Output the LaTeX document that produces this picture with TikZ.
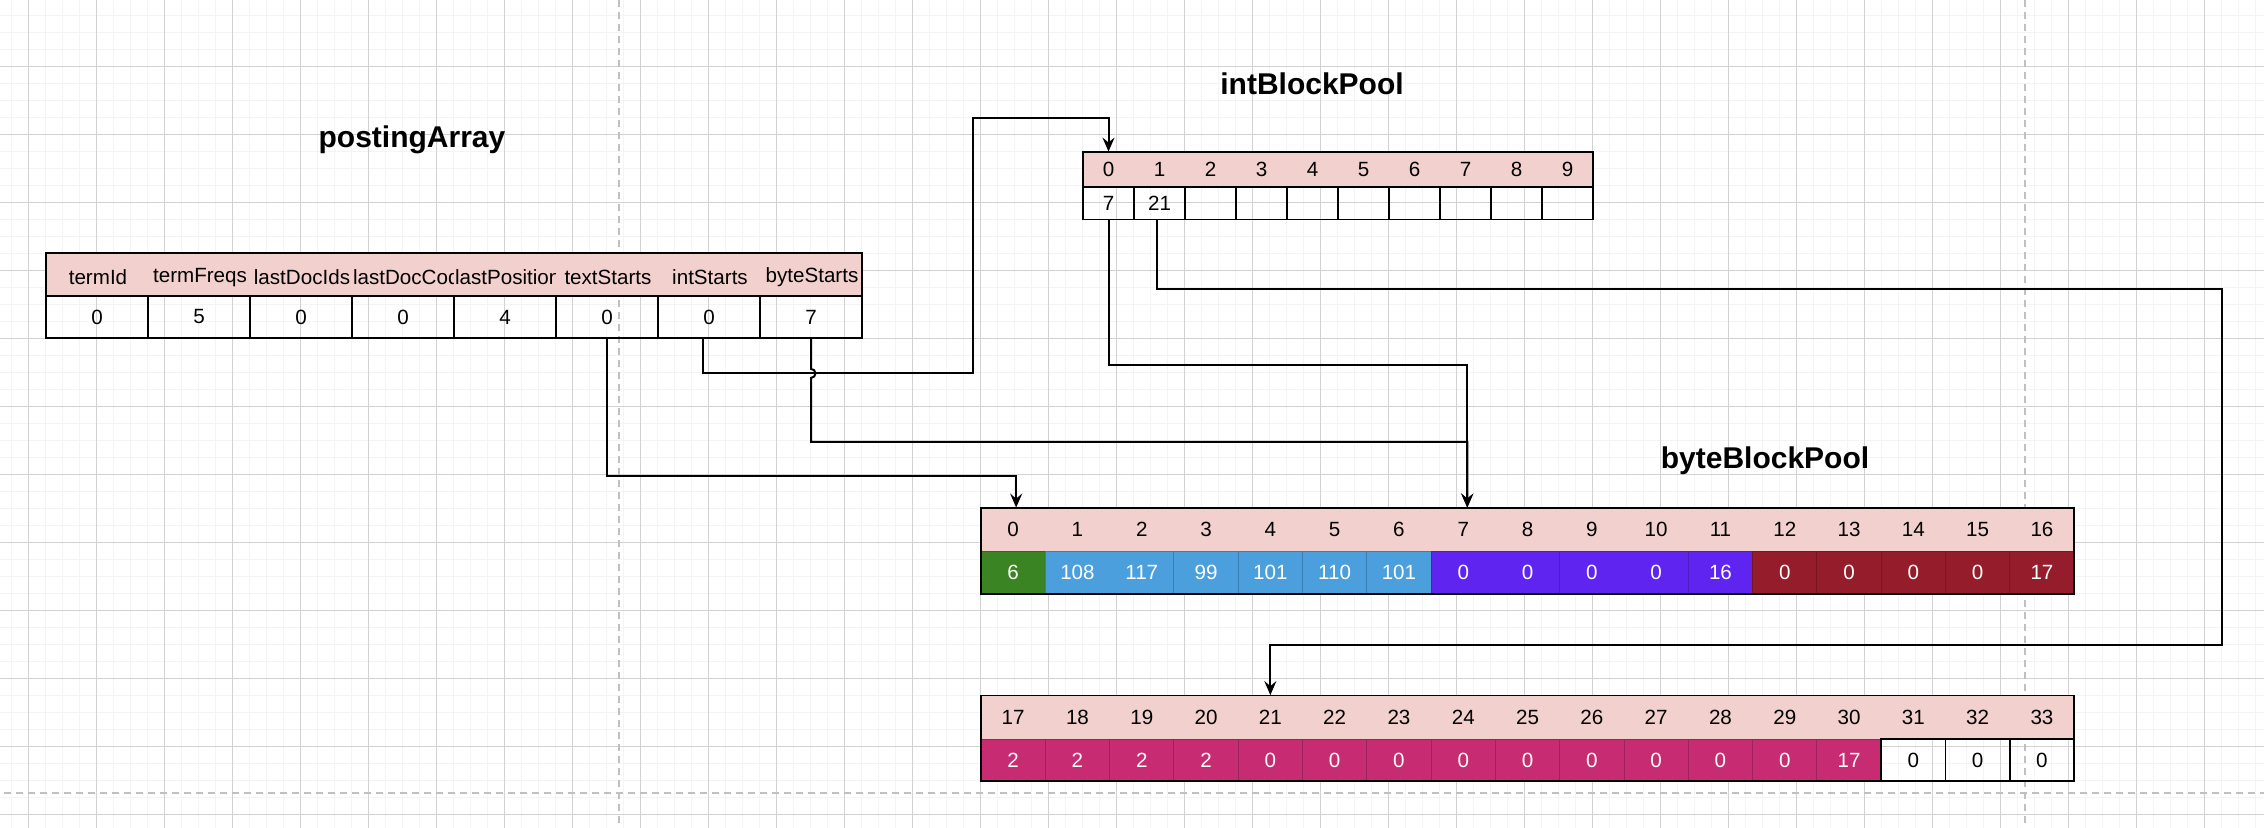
\documentclass[tikz,border=0pt]{standalone}
\usepackage{fontspec}
\setmainfont{Liberation Sans}
\usetikzlibrary{arrows.meta,calc}
\definecolor{hdrpink}{RGB}{242,208,205}
\definecolor{gridmajor}{RGB}{210,210,210}
\definecolor{gridminor}{RGB}{244,244,244}
\definecolor{pagebreak}{RGB}{192,192,192}
\definecolor{cgreen}{RGB}{58,132,36}
\definecolor{cblue}{RGB}{74,159,220}
\definecolor{cpurple}{RGB}{96,36,240}
\definecolor{cred}{RGB}{149,29,43}
\definecolor{cmagenta}{RGB}{199,43,113}
\begin{document}
\begin{tikzpicture}[x=0.5pt,y=-0.5pt,
  title/.style={font=\fontsize{15}{18}\selectfont\bfseries},
  lbl/.style={inner sep=0pt,font=\fontsize{10.3}{12}\selectfont},
  frame/.style={draw=black,line width=0.9pt},
  wire/.style={line width=1pt},
  conn/.style={line width=1pt,-{Stealth[length=7pt,width=6pt,inset=2.5pt]}},
]
\useasboundingbox (0,0) rectangle (2264,828);
\fill[white] (0,0) rectangle (2264,828);
\foreach \k in {0,...,132}
  \draw[gridminor,line width=0.6pt] ({11.3+17*\k},0) -- ({11.3+17*\k},828);
\foreach \k in {0,...,49}
  \draw[gridminor,line width=0.6pt] (0,{-1.7+17*\k}) -- (2264,{-1.7+17*\k});
\foreach \k in {0,...,32}
  \draw[gridmajor,line width=0.5pt] ({28.3+68*\k},0) -- ({28.3+68*\k},828);
\foreach \k in {0,...,12}
  \draw[gridmajor,line width=0.5pt] (0,{-1.7+68*\k}) -- (2264,{-1.7+68*\k});
\draw[pagebreak,line width=1pt,dash pattern=on 3.5pt off 2.5pt] (619,0) -- (619,828);
\draw[pagebreak,line width=1pt,dash pattern=on 3.5pt off 2.5pt] (2025,0) -- (2025,828);
\draw[pagebreak,line width=1pt,dash pattern=on 3.5pt off 2.5pt] (4,792.7) -- (2264,792.7);

\node[title] (postingtitle) at (412,140) {postingArray};
\node[title] (inttitle) at (1312,84) {intBlockPool};
\node[title] (bytetitle) at (1765,461) {byteBlockPool};

\fill[hdrpink] (46,253) rectangle (862,296);
\foreach \name [count=\i from 0] in {termId,termFreqs,lastDocIds,lastDocCodes,lastPositions,textStarts,intStarts,byteStarts} {
  \begin{scope}
    \clip ({46+102*\i},253) rectangle ++(101,43);
    \node[lbl,text width=51pt,align=center,minimum height=21.5pt] (ph\i) at ({98+102*\i},277.5) {\mbox{\name}};
  \end{scope}
}
\foreach \v [count=\i from 0] in {0,5,0,0,4,0,0,7}
  \node[lbl,frame,minimum width=51pt,minimum height=21pt] (pv\i) at ({97+102*\i},317) {\raisebox{-1pt}{\v}};
\draw[frame] (46,253) rectangle (862,338);

\fill[hdrpink] (1083,152) rectangle (1593,187);
\foreach \i in {0,...,9}
  \node[lbl,minimum width=25.5pt,minimum height=17.5pt] (ih\i) at ({1108.5+51*\i},169.5) {\i};
\foreach \v [count=\i from 0] in {7,21,{},{},{},{},{},{},{},{}}
  \node[lbl,frame,minimum width=25.5pt,minimum height=16.25pt] (iv\i) at ({1108.5+51*\i},203.25) {\v};
\draw[frame] (1083,152) rectangle (1593,219.5);

\fill[hdrpink] (981,508) rectangle (2074,551.5);
\foreach \i in {0,...,16}
  \node[lbl,minimum width=32.15pt,minimum height=21.75pt] (bh\i) at ({1013.15+64.3*\i},529.75) {\i};
\foreach \a/\b/\c in {0/1/cgreen,1/3/cblue,3/4/cblue,4/5/cblue,5/6/cblue,6/7/cblue,7/9/cpurple,9/11/cpurple,11/12/cpurple,12/13/cred,13/14/cred,14/15/cred,15/16/cred,16/17/cred}
  \draw[draw=\c!80!black,fill=\c,line width=0.5pt] ({981+64.3*\a},551.5) rectangle ({981+64.3*\b},594);
\foreach \v [count=\i from 0] in {6,108,117,99,101,110,101,0,0,0,0,16,0,0,0,0,17}
  \node[lbl,text=white,minimum width=32.15pt,minimum height=21.25pt] (bv\i) at ({1013.15+64.3*\i},572.75) {\v};
\draw[frame] (981,508) rectangle (2074,594);

\fill[hdrpink] (981,695.5) rectangle (2074,739);
\foreach \i in {0,...,16} {
  \pgfmathtruncatemacro\idx{\i+17}
  \node[lbl,minimum width=32.15pt,minimum height=21.75pt] (ch\i) at ({1013.15+64.3*\i},717.25) {\idx};
}
\foreach \a in {0,...,13}
  \draw[draw=cmagenta!80!black,fill=cmagenta,line width=0.5pt] ({981+64.3*\a},739) rectangle ({981+64.3*(\a+1)},781);
\foreach \a in {14,15,16}
  \draw[frame] ({981+64.3*\a},739) rectangle ({981+64.3*(\a+1)},781);
\foreach \v/\t [count=\i from 0] in {2/white,2/white,2/white,2/white,0/white,0/white,0/white,0/white,0/white,0/white,0/white,0/white,0/white,17/white,0/black,0/black,0/black}
  \node[lbl,text=\t,minimum width=32.15pt,minimum height=21pt] (cv\i) at ({1013.15+64.3*\i},760) {\v};
\draw[frame] (981,695.5) rectangle (2074,781);

\draw[conn] (pv5.south) -- ++(0,137) -| ([xshift=1.5pt]bh0.north);
\draw[conn] ([xshift=-3pt]pv6.south) -- ++(0,34.5) -| (973,118.5) -| (ih0.north);
\draw[conn] (pv7.south) -- ++(0,30) arc[start angle=-90,end angle=90,radius=4.5] -- ++(0,64) -| ([xshift=2pt]bh7.north);
\draw[conn] (iv0.south) -- ++(0,145) -| ([xshift=2pt]bh7.north);
\draw[conn] ([xshift=-1.5pt]iv1.south) -- ++(0,69) -| (2222,645) -| (ch4.north);
\end{tikzpicture}
\end{document}
